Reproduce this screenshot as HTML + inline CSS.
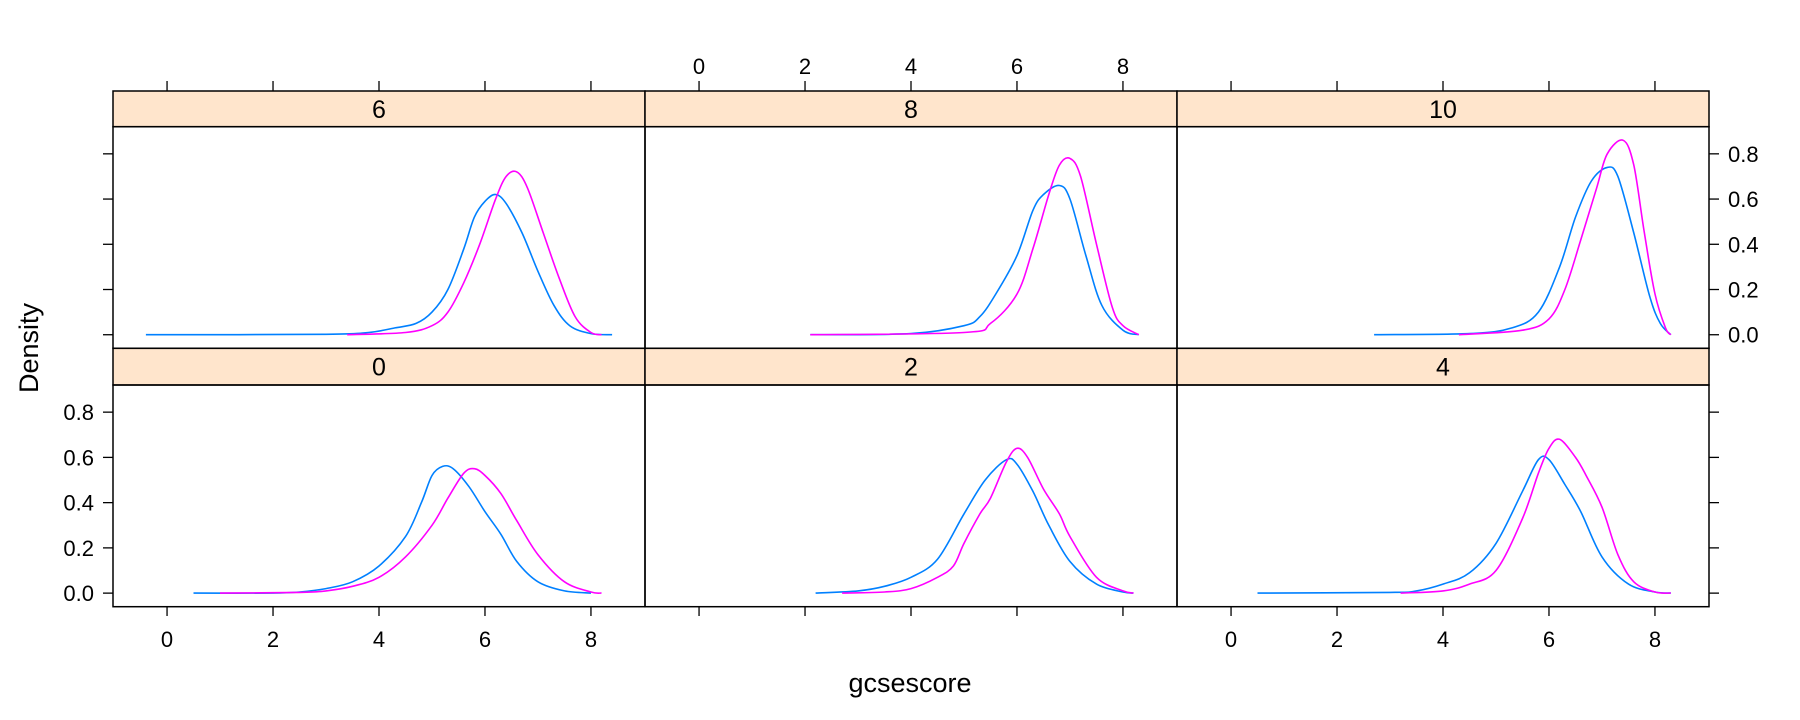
<!DOCTYPE html>
<html><head><meta charset="utf-8"><style>
html,body{margin:0;padding:0;background:#fff;}
svg{display:block;font-family:"Liberation Sans",sans-serif;}
</style></head><body>
<svg id="chart" width="1800" height="720" viewBox="0 0 1800 720"></svg>
<script>
const panelLabels = ["0","2","4","6","8","10"];
const xTicks = [0,2,4,6,8];
const yTicks = [0.0,0.2,0.4,0.6,0.8];
const yTickLabels = ["0.0","0.2","0.4","0.6","0.8"];
const blueX = [
 [0.5,2,2.5,3,3.5,4,4.5,4.8,5.0,5.2,5.4,5.7,6.0,6.3,6.6,7,7.5,8],
 [2.2,3,3.5,4,4.5,5,5.4,5.8,6.0,6.3,6.6,7,7.5,8,8.2],
 [0.5,3,3.5,4,4.5,5,5.5,5.8,6.0,6.3,6.6,7,7.5,8,8.3],
 [-0.4,3,3.8,4.3,4.7,5,5.3,5.6,5.8,6.0,6.2,6.4,6.7,7,7.3,7.6,8,8.4],
 [2.1,4,5,5.3,5.6,6.0,6.3,6.5,6.8,7.0,7.3,7.6,8,8.3],
 [2.7,4.5,5.3,5.8,6.2,6.5,6.8,7.1,7.3,7.6,7.9,8.1,8.3]
];
const blueY = [
 [0,0,0.005,0.02,0.05,0.12,0.25,0.4,0.52,0.56,0.55,0.47,0.36,0.26,0.14,0.05,0.01,0],
 [0,0.01,0.03,0.07,0.15,0.35,0.5,0.59,0.57,0.45,0.3,0.14,0.04,0.005,0],
 [0,0.003,0.01,0.04,0.09,0.22,0.45,0.59,0.59,0.48,0.36,0.16,0.04,0.005,0],
 [0,0.002,0.01,0.03,0.05,0.1,0.2,0.38,0.52,0.59,0.62,0.58,0.45,0.28,0.13,0.04,0.005,0],
 [0,0.005,0.04,0.08,0.18,0.35,0.55,0.62,0.66,0.6,0.35,0.13,0.02,0],
 [0,0.005,0.03,0.1,0.3,0.52,0.68,0.74,0.7,0.45,0.17,0.05,0]
];
const magX = [
 [1,2.5,3,3.5,4,4.5,5,5.3,5.6,5.8,6.0,6.3,6.6,7,7.5,8,8.2],
 [2.7,3.5,4,4.5,4.8,5.0,5.3,5.5,5.8,6.0,6.2,6.5,6.8,7,7.5,8,8.2],
 [3.2,4,4.5,5,5.5,5.8,6.0,6.2,6.5,6.7,7,7.3,7.6,8,8.3],
 [3.4,4.5,5,5.3,5.6,5.9,6.2,6.4,6.6,6.8,7.1,7.4,7.7,8,8.2],
 [2.1,5,5.5,6.0,6.3,6.6,6.8,7.0,7.2,7.5,7.8,8,8.3],
 [4.3,5.5,6.0,6.3,6.6,6.9,7.1,7.4,7.6,7.8,8.0,8.2,8.3]
];
const magY = [
 [0,0.003,0.01,0.03,0.07,0.16,0.3,0.42,0.53,0.55,0.52,0.44,0.32,0.17,0.05,0.005,0],
 [0,0.005,0.02,0.07,0.12,0.22,0.35,0.42,0.58,0.64,0.6,0.46,0.35,0.25,0.07,0.01,0],
 [0,0.01,0.04,0.1,0.33,0.53,0.64,0.68,0.6,0.52,0.38,0.17,0.05,0.005,0],
 [0,0.01,0.04,0.1,0.23,0.4,0.6,0.7,0.72,0.65,0.45,0.25,0.08,0.01,0],
 [0,0.01,0.05,0.18,0.38,0.62,0.75,0.78,0.7,0.4,0.12,0.04,0],
 [0,0.02,0.07,0.2,0.42,0.65,0.8,0.86,0.75,0.45,0.18,0.03,0]
];

const svg = document.getElementById('chart');
const NS = 'http://www.w3.org/2000/svg';
function mk(tag, attrs, parent){ const e=document.createElementNS(NS,tag); for(const k in attrs) e.setAttribute(k,attrs[k]); (parent||svg).appendChild(e); return e; }
const colL=[113,645,1177], colW=532;
const rows=[{strip:91,top:126.7,bot:348.3},{strip:348.3,top:385,bot:606.7}];
const xMin=-1.02,xMax=9.02,yMin=-0.06,yMax=0.92;
function sx(c,v){return colL[c]+(v-xMin)/(xMax-xMin)*colW;}
function sy(r,v){const R=rows[r];return R.bot-(v-yMin)/(yMax-yMin)*(R.bot-R.top);}
function smoothPath(P){
  let d='M'+P[0][0].toFixed(1)+','+P[0][1].toFixed(1);
  for(let i=0;i<P.length-1;i++){
    const p0=P[Math.max(0,i-1)],p1=P[i],p2=P[i+1],p3=P[Math.min(P.length-1,i+2)];
    const c1x=p1[0]+(p2[0]-p0[0])/6, c1y=p1[1]+(p2[1]-p0[1])/6;
    const c2x=p2[0]-(p3[0]-p1[0])/6, c2y=p2[1]-(p3[1]-p1[1])/6;
    d+=' C'+c1x.toFixed(1)+','+c1y.toFixed(1)+' '+c2x.toFixed(1)+','+c2y.toFixed(1)+' '+p2[0].toFixed(1)+','+p2[1].toFixed(1);
  }
  return d;
}

for(let p=0;p<6;p++){
  const c=p%3, r=p<3?1:0; const R=rows[r];
  const g=mk('g',{});
  
  
  const st=mk('rect',{x:colL[c],y:R.strip,width:colW,height:R.top-R.strip,fill:'#ffe5cc',stroke:'#000','stroke-width':1.5},g);
  
  
  const tl=mk('text',{x:colL[c]+colW/2,y:(R.strip+R.top)/2+9,'text-anchor':'middle','font-size':25},g);
  tl.textContent=panelLabels[p];
  
  
  const series=[[blueX[p],blueY[p],'#0080ff','blue'],[magX[p],magY[p],'#ff00ff','magenta']];
  for(const s of series){
    const P=s[0].map((x,i)=>[sx(c,x),sy(r,s[1][i])]);
    const pl=mk('path',{d:smoothPath(P),fill:'none',stroke:s[2],'stroke-width':1.6,'stroke-linejoin':'round'},g);
    
    
  }
  const bx=mk('rect',{x:colL[c],y:R.top,width:colW,height:R.bot-R.top,fill:'none',stroke:'#000','stroke-width':1.5},g);
  
  
}
for(let c=0;c<3;c++){
  for(let i=0;i<xTicks.length;i++){
    const x=sx(c,xTicks[i]);
    mk('line',{x1:x,x2:x,y1:606.7,y2:616,stroke:'#000','stroke-width':1.3});
    mk('line',{x1:x,x2:x,y1:81,y2:91,stroke:'#000','stroke-width':1.3});
    if(c!==1){const t=mk('text',{x:x,y:647,'text-anchor':'middle','font-size':22});t.textContent=xTicks[i];
      
      }
    else {const t=mk('text',{x:x,y:74,'text-anchor':'middle','font-size':22});t.textContent=xTicks[i];
      
      }
  }
}
for(let r=0;r<2;r++){
  for(let i=0;i<yTicks.length;i++){
    const y=sy(r,yTicks[i]);
    mk('line',{x1:103,x2:113,y1:y,y2:y,stroke:'#000','stroke-width':1.3});
    mk('line',{x1:1709,x2:1719,y1:y,y2:y,stroke:'#000','stroke-width':1.3});
    if(r===1){const t=mk('text',{x:94,y:y+8,'text-anchor':'end','font-size':22});t.textContent=yTickLabels[i];
      
      }
    else {const t=mk('text',{x:1728,y:y+8,'text-anchor':'start','font-size':22});t.textContent=yTickLabels[i];
      
      }
  }
}
const xt=mk('text',{x:910,y:692,'text-anchor':'middle','font-size':27});xt.textContent='gcsescore';


const yt=mk('text',{x:0,y:0,'text-anchor':'middle','font-size':27,transform:'translate(38,348) rotate(-90)'});yt.textContent='Density';


</script>
</body></html>
